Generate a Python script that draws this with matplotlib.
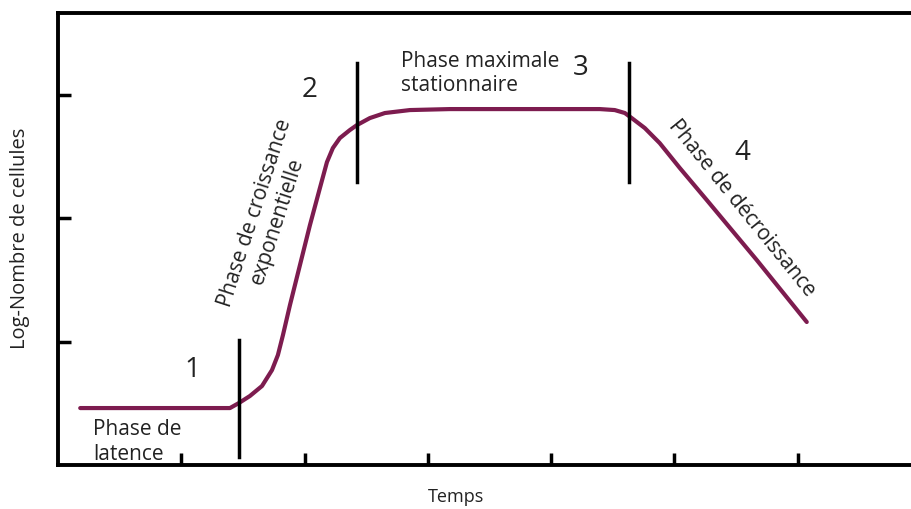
import matplotlib
matplotlib.use("Agg")
import matplotlib.pyplot as plt

plt.rcParams['font.family'] = ['Open Sans', 'DejaVu Sans']

# Growth curve (time units, log number of cells)
temps = [0.18, 1.395, 1.468, 1.557, 1.655, 1.736, 1.784, 1.825, 1.882, 1.963,
         2.044, 2.125, 2.182, 2.230, 2.287, 2.368, 2.425, 2.530, 2.652, 2.855,
         3.179, 4.396, 4.517, 4.599, 4.655, 4.761, 4.882, 5.045, 5.264, 5.669, 6.075]
log_cellules = [0.462, 0.462, 0.503, 0.560, 0.641, 0.770, 0.892, 1.054, 1.298, 1.622,
                1.946, 2.247, 2.457, 2.571, 2.652, 2.717, 2.757, 2.814, 2.855, 2.879,
                2.887, 2.887, 2.879, 2.855, 2.814, 2.733, 2.611, 2.409, 2.149, 1.663, 1.160]

# Phase boundaries: x position, y from, y to
limites_x = [1.468, 2.425, 4.631]
limites_bas = [0.065, 2.295, 2.295]
limites_haut = [1.014, 3.26, 3.26]

numeros = ["1", "2", "3", "4"]
numeros_x = [1.087, 2.044, 4.24, 5.556]
numeros_y = [0.77, 3.04, 3.22, 2.53]

fig = plt.figure(figsize=(9.11, 5.09), dpi=100)
ax = fig.add_axes([0.0637, 0.0864, 0.947, 0.888])

ax.plot(temps, log_cellules, color='#7d1c4f', linewidth=3, solid_capstyle='round')
for x, y0, y1 in zip(limites_x, limites_bas, limites_haut):
    ax.plot([x, x], [y0, y1], color='black', linewidth=2.5)

for t, x, y in zip(numeros, numeros_x, numeros_y):
    ax.text(x, y, t, fontsize=20, ha='center', va='center', color='#222222')

ax.text(0.284, 0.187, "Phase de\nlatence", fontsize=15, ha='left', va='center',
        color='#222222', linespacing=1.2)
ax.text(2.784, 3.175, "Phase maximale\nstationnaire", fontsize=15, ha='left', va='center',
        color='#222222', linespacing=1.2)
ax.text(1.69, 2.011, "Phase de croissance\nexponentielle", fontsize=15, ha='center',
        va='center', rotation=72, rotation_mode='anchor', color='#222222', linespacing=1.15)
ax.text(5.55, 2.084, "Phase de décroissance", fontsize=15, ha='center', va='center',
        rotation=-51, rotation_mode='anchor', color='#222222')

ax.set_xlim(0, 7)
ax.set_ylim(0, 3.666)
ax.set_xticks([1, 2, 3, 4, 5, 6])
ax.set_yticks([1, 2, 3])
ax.set_xticklabels([])
ax.set_yticklabels([])
ax.tick_params(direction='in', length=9, width=2.5)
for s in ['left', 'top', 'bottom']:
    ax.spines[s].set_linewidth(2.8)
ax.spines['right'].set_visible(False)

fig.text(20 / 911, 1 - 238 / 509, "Log-Nombre de cellules", rotation=90, fontsize=14.5,
         ha='center', va='center', color='#222222')
fig.text(456 / 911, 1 - 497 / 509, "Temps", fontsize=13, ha='center', va='center',
         color='#222222')

fig.savefig("out.png", dpi=100)
